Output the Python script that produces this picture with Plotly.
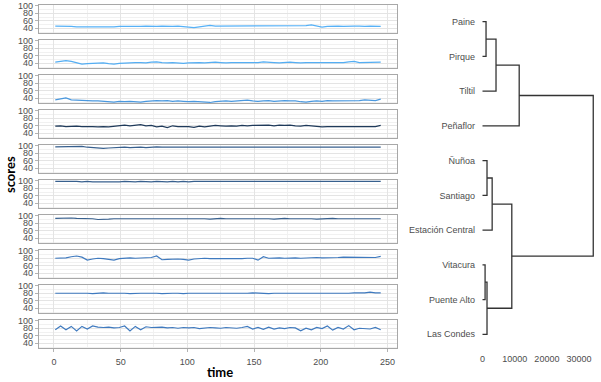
import plotly.graph_objects as go

# ---- datos ----
tiempo = list(range(1, 246, 4))  # 62 instantes

comunas = ["Paine", "Pirque", "Tiltil", "Peñaflor", "Ñuñoa", "Santiago",
           "Estación Central", "Vitacura", "Puente Alto", "Las Condes"]

paine = [46, 46, 45, 45, 44, 44, 44, 44, 43, 42, 43, 44, 45, 45, 45, 44, 45, 46, 45, 45,
         46, 45, 45, 46, 45, 44, 42, 44, 46, 48, 46, 46, 45, 45, 46, 45, 45, 46, 47, 47,
         47, 46, 47, 47, 46, 47, 47, 47, 49, 47, 43, 45, 46, 46, 45, 46, 46, 46, 45, 46,
         46, 45]
pirque = [43, 44, 47, 45, 41, 38, 39, 40, 40, 41, 39, 38, 40, 41, 41, 42, 42, 41, 43, 44,
          42, 41, 42, 41, 40, 41, 42, 42, 41, 43, 43, 42, 41, 42, 42, 43, 41, 42, 42, 44,
          42, 42, 41, 42, 43, 42, 41, 42, 42, 41, 42, 43, 42, 41, 42, 44, 45, 42, 42, 42,
          42, 43]
tiltil = [36, 38, 41, 36, 35, 34, 34, 33, 33, 32, 32, 30, 32, 31, 32, 31, 30, 32, 33, 34,
          33, 34, 32, 33, 32, 31, 32, 31, 30, 29, 31, 32, 33, 32, 33, 33, 35, 33, 32, 33,
          34, 32, 33, 34, 33, 33, 31, 30, 32, 33, 32, 34, 33, 33, 34, 33, 35, 34, 36, 35,
          34, 38]
penaflor = [59, 60, 58, 59, 59, 58, 59, 58, 57, 58, 57, 58, 60, 62, 60, 61, 63, 60, 61, 57,
            59, 55, 60, 58, 59, 58, 56, 59, 57, 58, 61, 60, 59, 60, 59, 61, 60, 61, 62, 61,
            62, 60, 62, 61, 62, 60, 59, 61, 60, 59, 57, 58, 58, 59, 58, 59, 58, 59, 58, 59,
            58, 61]
nunoa = [97, 97, 98, 97, 97, 98, 96, 95, 93, 93, 94, 95, 96, 96, 95, 96, 96, 95, 96, 97,
         96, 96, 95, 96, 96, 95, 96, 96, 95, 96, 97, 96, 96, 97, 96, 96, 95, 96, 96, 97,
         96, 96, 97, 96, 95, 96, 95, 96, 96, 95, 96, 96, 95, 96, 96, 96, 96, 95, 96, 96,
         96, 96]
santiago = [98, 98, 99, 98, 98, 97, 98, 97, 97, 96, 97, 97, 97, 98, 97, 97, 98, 97, 97, 98,
            97, 97, 98, 97, 98, 97, 98, 98, 97, 98, 97, 98, 98, 97, 98, 98, 97, 97, 98, 98,
            97, 98, 98, 97, 98, 97, 97, 98, 98, 97, 97, 98, 97, 98, 97, 97, 98, 97, 98, 98,
            98, 98]
est_central = [93, 94, 95, 94, 93, 93, 92, 92, 90, 90, 91, 92, 92, 93, 92, 92, 93, 92, 92, 93,
               92, 92, 93, 92, 93, 92, 92, 93, 92, 91, 92, 93, 92, 92, 93, 92, 92, 92, 93, 92,
               92, 91, 92, 93, 92, 92, 93, 92, 92, 91, 92, 92, 93, 92, 92, 93, 92, 92, 92, 93,
               92, 92]
vitacura = [80, 81, 81, 84, 86, 83, 75, 78, 80, 79, 77, 75, 79, 80, 81, 80, 81, 80, 82, 86,
            76, 77, 78, 78, 77, 75, 78, 79, 80, 79, 79, 78, 79, 78, 78, 79, 80, 80, 75, 84,
            80, 81, 81, 80, 81, 81, 80, 81, 81, 82, 81, 81, 82, 82, 83, 83, 84, 83, 82, 83,
            82, 85]
puente_alto = [80, 80, 81, 80, 81, 80, 80, 79, 80, 81, 80, 80, 81, 80, 79, 80, 80, 80, 81, 80,
               79, 80, 80, 80, 79, 80, 80, 79, 80, 80, 79, 79, 80, 80, 79, 80, 80, 81, 80, 80,
               79, 80, 80, 80, 79, 80, 80, 79, 80, 79, 80, 79, 80, 80, 79, 80, 81, 80, 81, 83,
               81, 81]
las_condes = [76, 86, 76, 85, 73, 85, 78, 86, 83, 82, 83, 81, 82, 86, 73, 85, 76, 84, 82, 82,
              83, 81, 82, 80, 82, 81, 82, 79, 81, 82, 81, 80, 82, 81, 80, 82, 85, 78, 82, 77,
              83, 78, 81, 79, 82, 81, 73, 80, 76, 82, 79, 86, 75, 82, 78, 87, 76, 80, 79, 78,
              82, 76]

series = [paine, pirque, tiltil, penaflor, nunoa, santiago,
          est_central, vitacura, puente_alto, las_condes]
colores = ["#56B1F7", "#54AEF3", "#4A98DE", "#1F3A5A", "#38608E",
           "#38608E", "#38608E", "#3F7ABF", "#3F7ABF", "#3F7ABF"]

# dendrograma: (izquierda, derecha, altura, id)
uniones = [
    ("Paine", "Pirque", 1100, "g1"),
    ("g1", "Tiltil", 4200, "g2"),
    ("g2", "Peñaflor", 11400, "g3"),
    ("Ñuñoa", "Santiago", 1400, "g4"),
    ("g4", "Estación Central", 3000, "g5"),
    ("Vitacura", "Puente Alto", 800, "g6"),
    ("g6", "Las Condes", 1400, "g7"),
    ("g5", "g7", 9100, "g8"),
    ("g3", "g8", 34400, "g9"),
]
ticks_dendro = [0, 10000, 20000, 30000]

# ---- figura ----
W, H = 601, 382
gris_txt = "#4D4D4D"
fuente_ejes = dict(family="Liberation Sans, Arial, sans-serif", size=9, color=gris_txt)
fuente_titulo = dict(family="Liberation Sans Narrow, Noto Sans Condensed, Lato, sans-serif",
                     size=13, color="black", weight="bold")

fig = go.Figure()
layout = {}

for i, (vals, col) in enumerate(zip(series, colores)):
    assert len(vals) == len(tiempo)
    n = i + 1
    fig.add_trace(go.Scatter(x=tiempo, y=vals, mode="lines", name=comunas[i],
                             line=dict(color=col, width=1.2),
                             xaxis=f"x{n}", yaxis=f"y{n}", showlegend=False))
    top = 5 + 35 * i
    bot = top + 28.3
    ultimo = (i == len(series) - 1)
    layout[f"xaxis{n}"] = dict(
        domain=[39 / W, 397 / W], anchor=f"y{n}", range=[-11.2, 257.2],
        tick0=0, dtick=50, showticklabels=ultimo, ticks="outside" if ultimo else "",
        ticklen=3, tickcolor="#B3B3B3", tickfont=fuente_ejes, ticklabelstandoff=2,
        showgrid=True, gridcolor="#E4E4E4", gridwidth=0.8,
        minor=dict(tick0=0, dtick=25, showgrid=True, gridcolor="#F1F1F1", gridwidth=0.6),
        showline=True, mirror=True, linecolor="#A8A8A8", linewidth=1.3,
        zeroline=False, automargin=False)
    layout[f"yaxis{n}"] = dict(
        domain=[1 - bot / H, 1 - top / H], anchor=f"x{n}", range=[26.8, 101.9],
        tick0=0, dtick=20, ticks="outside", ticklen=3, tickcolor="#B3B3B3",
        tickfont=fuente_ejes,
        showgrid=True, gridcolor="#E4E4E4", gridwidth=0.8,
        minor=dict(tick0=0, dtick=10, showgrid=True, gridcolor="#F1F1F1", gridwidth=0.6),
        showline=True, mirror=True, linecolor="#A8A8A8", linewidth=1.3,
        zeroline=False, automargin=False)

# coordenadas del dendrograma
nodos = {c: (len(comunas) - k, 0) for k, c in enumerate(comunas)}
dx, dy = [], []
for a, b, h, gid in uniones:
    ya, ha = nodos[a]
    yb, hb = nodos[b]
    dx += [ha, h, h, hb, None]
    dy += [ya, ya, yb, yb, None]
    nodos[gid] = ((ya + yb) / 2, h)

fig.add_trace(go.Scatter(x=dx, y=dy, mode="lines", line=dict(color="#333333", width=1.3),
                         xaxis="x11", yaxis="y11", showlegend=False))

layout["xaxis11"] = dict(
    domain=[476 / W, 1], anchor="y11", range=[-2019, 36806],
    tickvals=ticks_dendro, tickformat="d", tickfont=fuente_ejes, ticks="",
    ticklabelstandoff=4,
    showgrid=False, zeroline=False, showline=False, automargin=False)
layout["yaxis11"] = dict(
    domain=[1 - 348.3 / H, 1 - 5 / H], anchor="x11", range=[0.597, 10.48],
    tickvals=[len(comunas) - k for k in range(len(comunas))], ticktext=comunas,
    tickfont=fuente_ejes, ticks="",
    showgrid=False, zeroline=False, showline=False, automargin=False)

fig.update_layout(
    width=W, height=H, template="none",
    margin=dict(l=0, r=0, t=0, b=0),
    paper_bgcolor="white", plot_bgcolor="white",
    showlegend=False,
    annotations=[
        dict(text="time", x=220 / W, y=1 - 371.5 / H, xref="paper", yref="paper",
             showarrow=False, font=fuente_titulo, xanchor="center", yanchor="middle"),
        dict(text="scores", x=10 / W, y=1 - 175 / H, xref="paper", yref="paper",
             showarrow=False, font=fuente_titulo, textangle=-90,
             xanchor="center", yanchor="middle"),
    ],
    **layout,
)

# sin margen del body para que la figura quede en (0, 0)
fig.write_html("out.html", config={"displayModeBar": False},
               post_script="document.body.style.margin='0';")
